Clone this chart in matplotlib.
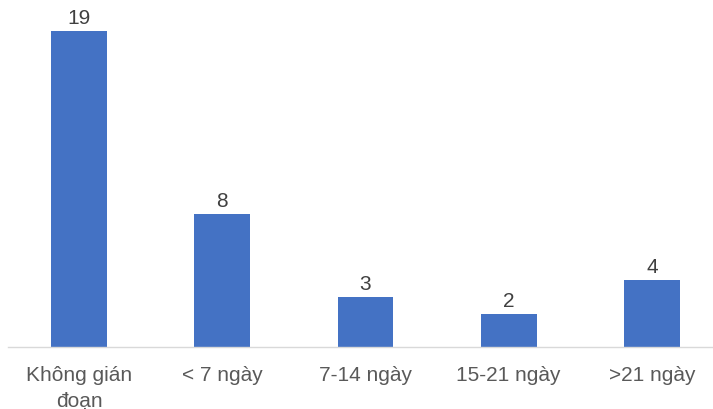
import matplotlib
matplotlib.use("Agg")
import matplotlib.pyplot as plt

# du lieu cua bieu do
nhom = ["Không gián\nđoạn", "< 7 ngày", "7-14 ngày", "15-21 ngày", ">21 ngày"]
so_luong = [19, 8, 3, 2, 4]

plt.rcParams['font.family'] = ['Liberation Sans', 'DejaVu Sans']

fig = plt.figure(figsize=(7.13, 4.10), dpi=100)
ax = fig.add_axes([8 / 713, 62 / 410, 705 / 713, 348 / 410])

x = range(len(nhom))
bars = ax.bar(x, so_luong, width=0.39, color="#4472C4")

for b, v in zip(bars, so_luong):
    ax.annotate(str(v), (b.get_x() + b.get_width() / 2, v), xytext=(0, 3),
                textcoords="offset points", ha="center", va="bottom",
                fontsize=15, color="#404040")

ax.set_xlim(-0.496, 4.426)
ax.set_ylim(0, 20.93)
ax.set_xticks(list(x))
ax.set_xticklabels(nhom, fontsize=15, color="#595959", linespacing=1.45)
ax.tick_params(axis="x", length=0, pad=13)
ax.set_yticks([])
for s in ["top", "right", "left"]:
    ax.spines[s].set_visible(False)
ax.spines["bottom"].set_color("#D9D9D9")
ax.spines["bottom"].set_linewidth(1)

fig.savefig("out.png", dpi=100)
